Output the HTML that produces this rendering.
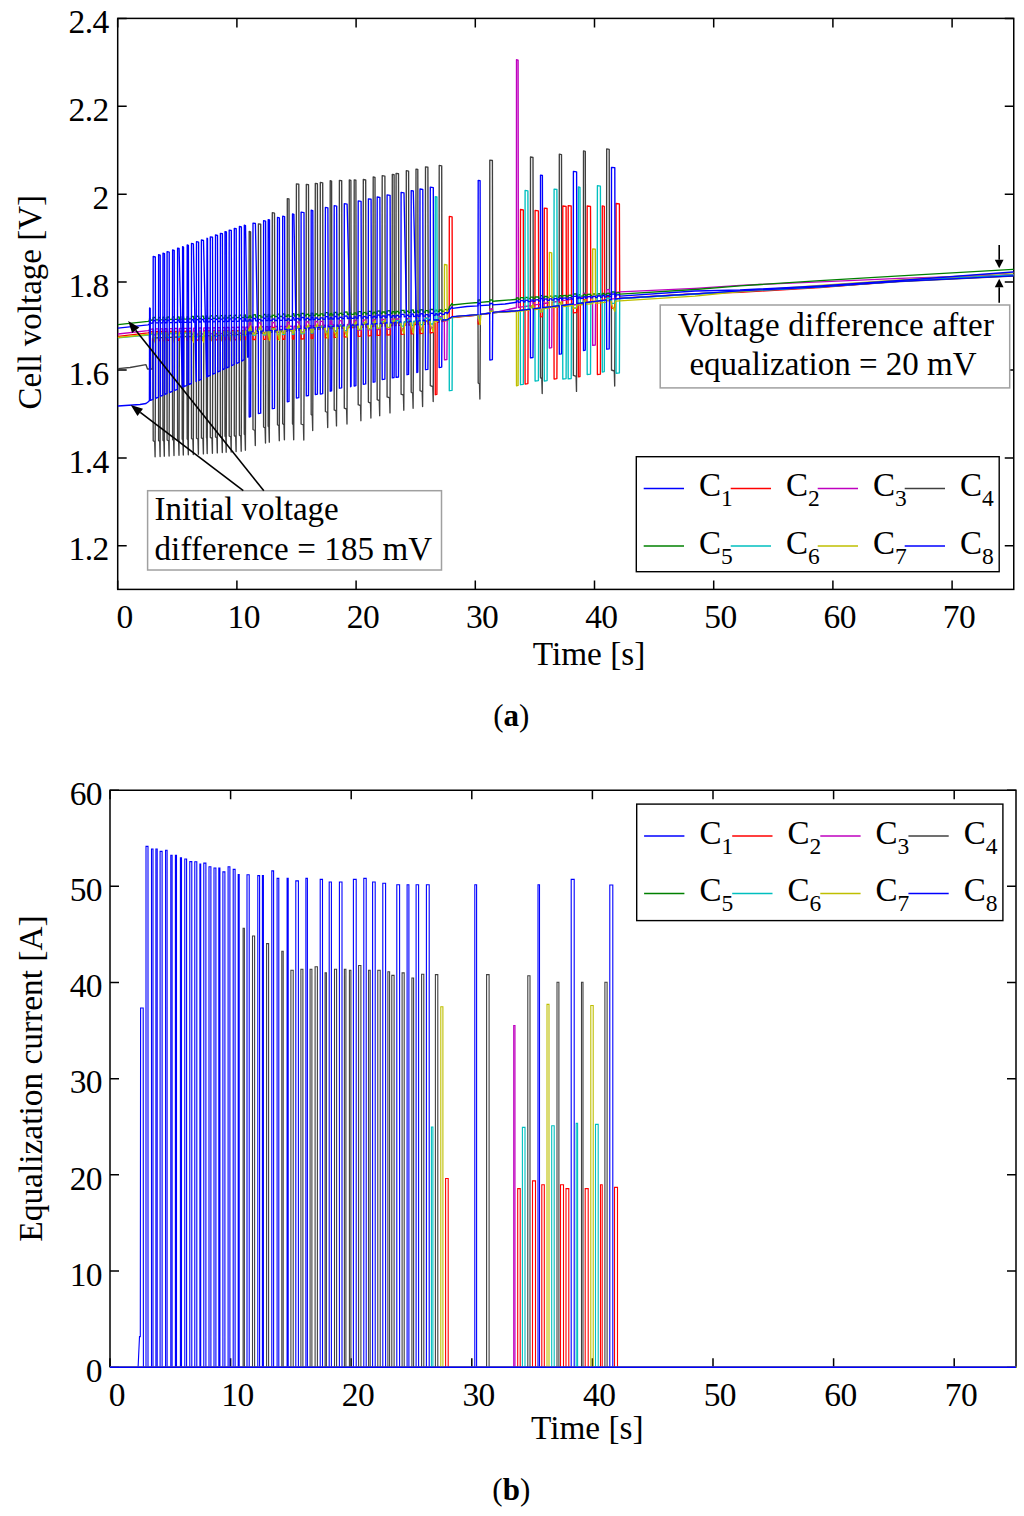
<!DOCTYPE html><html><head><meta charset="utf-8"><style>html,body{margin:0;padding:0;background:#fff;}svg{display:block}</style></head><body><svg width="1024" height="1516" viewBox="0 0 1024 1516" font-family='"Liberation Serif", serif'>
<rect width="1024" height="1516" fill="#fff"/>
<g stroke="#000" stroke-width="1.5" fill="none">
<rect x="117.7" y="18.4" width="896.05" height="571.00"/>
<path d="M117.70 589.4V580.4M117.70 18.4V27.4M236.90 589.4V580.4M236.90 18.4V27.4M356.10 589.4V580.4M356.10 18.4V27.4M475.30 589.4V580.4M475.30 18.4V27.4M594.50 589.4V580.4M594.50 18.4V27.4M713.70 589.4V580.4M713.70 18.4V27.4M832.90 589.4V580.4M832.90 18.4V27.4M952.10 589.4V580.4M952.10 18.4V27.4M117.7 545.80H126.7M1013.75 545.80H1004.75M117.7 457.90H126.7M1013.75 457.90H1004.75M117.7 370.00H126.7M1013.75 370.00H1004.75M117.7 282.10H126.7M1013.75 282.10H1004.75M117.7 194.20H126.7M1013.75 194.20H1004.75M117.7 106.30H126.7M1013.75 106.30H1004.75M117.7 18.40H126.7M1013.75 18.40H1004.75"/>
</g>
<text x="108.7" y="560.4" font-size="33.5" text-anchor="end" letter-spacing="-0.6">1.2</text>
<text x="108.7" y="472.5" font-size="33.5" text-anchor="end" letter-spacing="-0.6">1.4</text>
<text x="108.7" y="384.6" font-size="33.5" text-anchor="end" letter-spacing="-0.6">1.6</text>
<text x="108.7" y="296.7" font-size="33.5" text-anchor="end" letter-spacing="-0.6">1.8</text>
<text x="108.7" y="208.8" font-size="33.5" text-anchor="end" letter-spacing="-0.6">2</text>
<text x="108.7" y="120.9" font-size="33.5" text-anchor="end" letter-spacing="-0.6">2.2</text>
<text x="108.7" y="33.0" font-size="33.5" text-anchor="end" letter-spacing="-0.6">2.4</text>
<text x="124.5" y="628.3" font-size="33.5" text-anchor="middle" letter-spacing="-0.6">0</text>
<text x="243.7" y="628.3" font-size="33.5" text-anchor="middle" letter-spacing="-0.6">10</text>
<text x="362.9" y="628.3" font-size="33.5" text-anchor="middle" letter-spacing="-0.6">20</text>
<text x="482.1" y="628.3" font-size="33.5" text-anchor="middle" letter-spacing="-0.6">30</text>
<text x="601.3" y="628.3" font-size="33.5" text-anchor="middle" letter-spacing="-0.6">40</text>
<text x="720.5" y="628.3" font-size="33.5" text-anchor="middle" letter-spacing="-0.6">50</text>
<text x="839.7" y="628.3" font-size="33.5" text-anchor="middle" letter-spacing="-0.6">60</text>
<text x="958.9" y="628.3" font-size="33.5" text-anchor="middle" letter-spacing="-0.6">70</text>
<text x="589.0" y="665.2" font-size="33.3" text-anchor="middle" >Time [s]</text>
<text x="0" y="0" font-size="33" text-anchor="middle" transform="translate(41 302.2) rotate(-90)">Cell voltage [V]</text>
<text x="511.3" y="726" font-size="31" text-anchor="middle">(<tspan font-weight="bold">a</tspan>)</text>
<g stroke="#000" stroke-width="1.5" fill="none">
<path d="M110.0 1367.2V790.2H1016.0V1367.2"/>
<path d="M110.00 1367.2V1358.2M110.00 790.2V799.2M230.60 1367.2V1358.2M230.60 790.2V799.2M351.20 1367.2V1358.2M351.20 790.2V799.2M471.80 1367.2V1358.2M471.80 790.2V799.2M592.40 1367.2V1358.2M592.40 790.2V799.2M713.00 1367.2V1358.2M713.00 790.2V799.2M833.60 1367.2V1358.2M833.60 790.2V799.2M954.20 1367.2V1358.2M954.20 790.2V799.2M110.0 1367.20H119.0M1016.0 1367.20H1007.0M110.0 1271.03H119.0M1016.0 1271.03H1007.0M110.0 1174.87H119.0M1016.0 1174.87H1007.0M110.0 1078.70H119.0M1016.0 1078.70H1007.0M110.0 982.53H119.0M1016.0 982.53H1007.0M110.0 886.37H119.0M1016.0 886.37H1007.0M110.0 790.20H119.0M1016.0 790.20H1007.0"/>
</g>
<g id="dataA" fill="none" stroke-width="1.35" stroke-linejoin="round">
<path d="M117.9 368.6L118.0 368.6 130.0 367.5 146.0 364.7 147.5 369.0 149.4 369.0 150.5 369.0 152.3 369.0 152.5 338.0 153.0 338.0 153.2 440.8 154.7 441.8 155.1 456.8 155.6 337.9 158.5 337.7 158.6 440.5 159.7 441.5 160.1 456.5 160.5 337.7 162.8 337.6 163.0 440.2 163.9 441.2 164.3 456.2 164.8 337.5 167.0 337.4 167.1 440.0 168.7 441.0 169.1 456.0 169.5 337.3 172.4 337.2 172.6 439.6 173.6 440.6 174.0 455.6 174.5 337.1 177.4 336.9 177.6 439.3 178.6 440.3 179.0 455.3 179.4 336.9 182.1 336.8 182.2 439.1 182.9 440.1 183.3 455.1 183.8 336.7 187.0 336.5 187.2 438.8 187.9 439.8 188.3 454.8 188.7 336.5 191.4 336.4 191.5 438.5 192.9 439.5 193.3 454.5 193.7 336.3 196.3 336.2 196.5 438.2 198.0 439.2 198.4 454.2 198.9 336.0 200.0 336.0 201.3 335.9 201.4 437.9 203.0 438.9 203.4 453.9 203.8 335.8 206.3 335.7 206.5 437.5 206.8 438.5 207.2 453.5 207.7 335.7 210.2 335.6 210.3 437.3 212.0 438.3 212.4 453.3 212.8 335.5 215.3 335.4 215.5 436.9 216.9 437.9 217.3 452.9 217.8 335.3 220.2 335.2 220.4 436.6 221.9 437.6 222.3 452.6 222.7 335.1 224.9 335.0 225.0 436.2 225.8 437.2 226.2 452.2 226.7 334.9 229.0 334.8 229.2 436.0 230.8 437.0 231.2 452.0 231.6 334.7 234.2 334.6 234.3 435.6 235.7 436.6 236.1 451.6 236.5 334.5 239.2 334.4 239.4 435.2 240.8 436.2 241.2 451.2 241.7 334.3 244.2 334.2 244.3 434.2 245.0 435.2 245.4 450.2 245.8 334.1 248.0 334.0 249.0 333.9 249.2 231.4 250.6 231.8 250.9 333.8 252.9 333.6 253.0 429.5 254.9 430.5 255.3 445.5 255.7 333.4 258.3 333.2 258.4 223.8 260.7 224.2 261.0 333.0 263.4 332.8 263.6 427.0 265.1 428.0 265.5 443.0 265.9 332.6 268.1 332.5 268.2 426.2 268.9 427.2 269.3 442.2 269.8 332.3 272.1 332.1 272.3 212.7 274.5 213.1 274.8 331.9 277.4 331.7 277.5 424.7 278.9 425.7 279.3 440.7 279.7 331.6 282.5 331.3 282.7 423.8 284.0 424.8 284.4 439.8 284.9 331.2 287.2 331.0 287.3 198.6 289.0 199.0 289.3 330.8 292.4 330.6 292.5 423.8 293.3 424.8 293.7 439.8 294.2 330.4 296.3 330.3 296.4 183.8 298.8 184.2 299.1 330.1 301.0 329.9 301.1 424.0 303.4 425.0 303.8 440.0 304.3 329.7 306.1 329.5 306.3 184.3 308.5 184.7 308.8 329.3 311.1 329.1 311.2 414.6 312.3 415.6 312.7 430.6 313.1 329.0 315.1 328.8 315.3 183.3 317.4 183.7 317.7 328.6 320.2 328.4 320.3 182.4 322.7 182.8 323.0 328.2 325.2 328.1 325.4 411.5 327.3 412.5 327.7 427.5 328.2 327.8 330.1 327.7 330.2 180.7 331.6 181.1 331.9 327.5 334.1 327.4 334.2 409.9 336.1 410.9 336.5 425.9 337.0 327.2 339.2 327.0 339.4 180.3 341.7 180.7 342.0 326.8 344.2 326.6 344.3 408.1 346.6 409.1 347.0 424.1 347.4 326.4 349.1 326.2 349.3 180.0 350.9 180.4 351.2 326.1 354.1 325.8 354.2 179.8 355.9 180.2 356.2 325.7 358.0 325.5 358.2 404.7 360.5 405.7 360.9 420.7 361.4 325.3 363.2 325.1 363.3 179.5 365.7 179.9 366.0 324.9 368.2 324.8 368.4 402.1 370.5 403.1 370.9 418.1 371.4 324.5 373.0 324.4 373.2 177.0 375.0 177.4 375.3 324.2 377.0 324.1 377.2 399.7 379.3 400.7 379.7 415.7 380.2 323.8 382.0 323.7 382.2 175.7 384.9 176.1 385.2 323.4 387.0 323.3 387.1 396.9 389.6 397.9 390.0 412.9 390.4 323.0 392.1 322.9 392.3 174.3 394.1 174.7 394.4 322.7 396.0 322.6 396.1 173.3 398.5 173.7 398.8 322.4 400.9 322.2 401.1 394.2 403.4 395.2 403.8 410.2 404.3 322.0 406.2 321.8 406.3 170.7 408.6 171.1 408.9 321.6 411.0 321.5 411.2 392.3 412.7 393.3 413.1 408.3 413.6 321.3 415.8 321.1 416.0 169.1 417.8 169.5 418.1 320.9 419.9 320.8 420.0 390.6 422.2 391.6 422.6 406.6 423.1 320.5 425.3 320.4 425.5 166.8 427.9 167.2 428.2 320.1 430.0 320.0 430.2 320.0 430.3 385.6 432.8 386.6 433.2 401.6 433.6 320.0 435.1 320.0 437.2 320.0 439.1 320.0 439.2 165.4 441.7 165.8 442.0 320.0 444.3 320.0 447.2 319.9 449.2 318.7 452.4 317.0 478.0 315.0 478.2 383.0 479.5 384.0 479.9 399.0 480.4 314.6 489.7 313.3 489.8 160.1 492.4 160.5 492.7 312.8 495.0 312.5 515.0 311.0 516.4 310.8 518.4 310.6 520.3 310.4 523.6 310.0 525.0 309.8 528.2 309.4 530.3 309.2 530.5 157.0 533.0 157.4 533.3 308.8 534.9 308.6 538.7 308.2 540.4 308.0 540.5 377.6 541.8 378.6 542.2 393.6 542.7 307.7 544.1 307.6 547.4 307.2 549.3 307.0 552.0 306.6 553.9 306.4 557.2 306.0 559.2 305.8 559.3 154.2 561.5 154.6 561.8 305.5 562.6 305.4 566.4 304.9 568.1 304.7 571.5 304.3 573.3 304.1 573.4 375.4 576.1 376.4 576.5 391.4 576.9 303.7 578.2 303.5 580.3 303.3 583.4 302.9 583.5 150.9 585.3 151.3 585.6 302.7 587.0 302.5 590.8 302.0 592.6 301.8 595.6 301.5 597.2 301.3 600.7 300.9 602.2 300.7 604.6 300.4 606.5 300.2 606.7 148.9 609.2 149.3 609.5 299.8 611.4 299.6 611.5 370.0 614.3 371.0 614.7 386.0 615.1 299.2 616.0 299.1 619.7 298.6 620.0 298.6 695.0 294.0 740.0 291.5 820.0 287.2 900.0 281.6 1013.0 276.0 1013.6 276.0" stroke="#404040"/>
<path d="M117.9 336.3L118.0 336.3 148.0 332.8 149.4 332.4 149.6 341.4 150.2 341.1 150.5 332.1 152.0 331.6 153.0 331.6 153.2 340.6 155.3 340.6 155.6 331.6 158.5 331.5 158.6 340.5 160.2 340.5 160.5 331.5 162.8 331.5 163.0 340.5 164.5 340.5 164.8 331.5 167.0 331.4 167.1 340.4 169.2 340.4 169.5 331.4 172.4 331.4 172.6 340.4 174.2 340.4 174.5 331.4 177.4 331.3 177.6 340.3 179.1 340.3 179.4 331.3 182.1 331.3 182.2 340.3 183.5 340.3 183.8 331.3 187.0 331.2 187.2 340.2 188.4 340.2 188.7 331.2 191.4 331.2 191.5 340.2 193.4 340.2 193.7 331.1 196.3 331.1 196.5 340.1 198.6 340.1 198.9 331.1 201.3 331.1 201.4 340.1 203.5 340.0 203.8 331.0 206.3 331.0 206.5 340.0 207.4 340.0 207.7 331.0 210.2 331.0 210.3 340.0 212.5 339.9 212.8 330.9 215.3 330.9 215.5 339.9 217.5 339.9 217.8 330.9 220.2 330.9 220.4 339.9 222.4 339.8 222.7 330.8 224.9 330.8 225.0 339.8 226.4 339.8 226.7 330.8 229.0 330.8 229.2 339.8 231.3 339.7 231.6 330.7 234.2 330.7 234.3 339.7 236.2 339.7 236.5 330.7 239.2 330.7 239.4 339.7 241.4 339.6 241.7 330.6 244.2 330.6 244.3 339.6 245.5 339.6 245.8 330.6 249.0 330.6 249.2 327.6 250.6 327.5 250.9 330.5 252.9 330.5 253.0 339.5 255.4 339.5 255.7 330.5 258.3 330.5 258.4 327.5 260.7 327.4 261.0 330.4 263.4 330.4 263.6 339.4 265.6 339.4 265.9 330.4 268.1 330.3 268.2 339.3 269.5 339.3 269.8 330.3 272.1 330.3 272.3 327.3 274.5 327.3 274.8 330.3 277.4 330.2 277.5 339.2 279.4 339.2 279.7 330.2 282.5 330.2 282.7 339.2 284.6 339.2 284.9 330.2 287.2 330.1 287.3 327.1 289.0 327.1 289.3 330.1 292.4 330.1 292.5 339.1 293.9 339.1 294.2 330.1 296.3 330.0 296.4 327.0 298.8 327.0 299.1 330.0 300.0 330.0 301.0 330.0 301.1 339.0 304.0 338.8 304.3 329.8 306.1 329.7 306.3 326.7 308.5 326.6 308.8 329.6 311.1 329.5 311.2 338.5 312.8 338.4 313.1 329.4 315.1 329.3 315.3 326.3 317.4 326.2 317.7 329.2 320.2 329.1 320.3 326.1 322.7 325.9 323.0 328.9 325.2 328.8 325.4 337.8 327.9 337.7 328.2 328.7 330.1 328.6 330.2 325.6 331.6 325.5 331.9 328.5 334.1 328.4 334.2 337.4 336.7 337.3 337.0 328.3 339.2 328.2 339.4 325.2 341.7 325.1 342.0 328.1 344.2 328.0 344.3 337.0 347.1 336.8 347.4 327.8 349.1 327.7 349.3 324.7 350.9 324.6 351.2 327.6 354.1 327.5 354.2 324.5 355.9 324.4 356.2 327.4 358.0 327.3 358.2 336.3 361.1 336.2 361.4 327.2 363.2 327.1 363.3 324.1 365.7 324.0 366.0 327.0 368.2 326.9 368.4 335.9 371.1 335.7 371.4 326.7 373.0 326.6 373.2 323.6 375.0 323.5 375.3 326.5 377.0 326.4 377.2 335.4 379.9 335.3 380.2 326.3 382.0 326.2 382.2 323.2 384.9 323.1 385.2 326.1 387.0 326.0 387.1 335.0 390.1 334.8 390.4 325.8 392.1 325.7 392.3 322.7 394.1 322.7 394.4 325.6 396.0 325.6 396.1 322.6 398.5 322.4 398.8 325.4 400.9 325.3 401.1 334.3 404.0 334.2 404.3 325.2 406.2 325.1 406.3 322.1 408.6 322.0 408.9 325.0 411.0 324.9 411.2 333.9 413.3 333.8 413.6 324.8 415.8 324.7 416.0 321.7 417.8 321.6 418.1 324.5 419.9 324.5 420.0 333.5 422.8 333.3 423.1 324.3 425.3 324.2 425.5 321.2 427.9 321.1 428.2 324.1 430.0 324.0 430.2 324.0 430.3 333.0 433.3 332.3 433.6 323.3 435.1 322.9 435.3 394.7 436.9 394.3 437.2 322.5 439.1 322.1 439.2 319.1 441.7 318.6 442.0 321.5 444.3 321.1 447.2 320.4 449.2 319.2 449.3 216.4 452.1 216.8 452.4 317.5 478.0 315.0 478.2 324.0 480.1 323.7 480.4 314.7 489.7 313.4 489.8 310.4 492.4 309.9 492.7 312.9 495.0 312.6 515.0 311.0 516.4 310.8 518.4 310.6 520.3 310.4 520.5 209.5 523.3 209.9 523.6 310.0 525.0 309.8 525.1 384.0 527.9 383.6 528.2 309.4 530.3 309.1 530.5 306.1 533.0 305.8 533.3 308.8 534.9 308.6 535.1 210.4 538.4 210.8 538.7 308.1 540.4 307.9 540.5 316.9 542.4 316.6 542.7 307.6 544.1 307.4 544.3 208.1 547.1 208.5 547.4 307.1 549.3 306.8 552.0 306.5 553.9 306.3 554.1 379.0 556.9 378.6 557.2 305.9 559.2 305.6 559.3 302.6 561.5 302.3 561.8 305.3 562.6 305.2 562.8 206.0 566.1 206.4 566.4 304.7 568.1 304.5 568.2 205.6 571.2 206.0 571.5 304.1 573.3 303.9 573.4 312.9 576.6 312.5 576.9 303.4 578.2 303.3 578.4 376.9 580.0 376.5 580.3 303.0 583.4 302.7 583.5 299.7 585.3 299.4 585.6 302.4 587.0 302.2 587.2 206.0 590.5 206.4 590.8 301.8 592.6 301.5 595.6 301.2 597.2 301.0 597.4 374.6 600.4 374.2 600.7 300.6 602.2 300.4 602.3 205.9 604.3 206.3 604.6 300.1 606.5 299.8 606.7 296.8 609.2 296.5 609.5 299.5 611.4 299.3 611.5 308.3 614.8 307.8 615.1 298.8 616.0 298.7 616.1 203.5 619.4 203.9 619.7 298.2 620.0 298.2 695.0 293.6 740.0 292.3 820.0 287.5 900.0 281.0 1013.0 274.8 1013.6 274.8" stroke="#ff0000"/>
<path d="M117.9 334.0L118.0 334.0 148.0 330.7 149.4 330.1 149.6 336.1 150.2 335.7 150.5 329.7 152.0 329.0 153.0 329.0 153.2 335.0 155.3 334.9 155.6 328.9 158.5 328.9 158.6 334.9 160.2 334.8 160.5 328.8 162.8 328.8 163.0 334.8 164.5 334.7 164.8 328.7 167.0 328.7 167.1 334.7 169.2 334.6 169.5 328.6 172.4 328.6 172.6 334.6 174.2 334.5 174.5 328.5 177.4 328.5 177.6 334.5 179.1 334.4 179.4 328.4 182.1 328.4 182.2 334.4 183.5 334.4 183.8 328.4 187.0 328.3 187.2 334.3 188.4 334.3 188.7 328.3 191.4 328.2 191.5 334.2 193.4 334.2 193.7 328.2 196.3 328.1 196.5 334.1 198.6 334.1 198.9 328.0 201.3 328.0 201.4 334.0 203.5 334.0 203.8 327.9 206.3 327.9 206.5 333.9 207.4 333.9 207.7 327.9 210.2 327.8 210.3 333.8 212.5 333.8 212.8 327.8 215.3 327.7 215.5 333.7 217.5 333.7 217.8 327.7 220.2 327.6 220.4 333.6 222.4 333.6 222.7 327.6 224.9 327.5 225.0 333.5 226.4 333.5 226.7 327.5 229.0 327.4 229.2 333.4 231.3 333.4 231.6 327.4 234.2 327.3 234.3 333.3 236.2 333.3 236.5 327.3 239.2 327.2 239.4 333.2 241.4 333.2 241.7 327.2 244.2 327.1 244.3 333.1 245.5 333.1 245.8 327.1 249.0 327.0 249.2 323.0 250.6 323.0 250.9 327.0 252.9 327.0 253.0 333.0 255.4 332.9 255.7 326.9 258.3 326.8 258.4 322.8 260.7 322.8 261.0 326.8 263.4 326.7 263.6 332.7 265.6 332.7 265.9 326.7 268.1 326.6 268.2 332.6 269.5 332.6 269.8 326.6 272.1 326.6 272.3 322.6 274.5 322.5 274.8 326.5 277.4 326.5 277.5 332.5 279.4 332.4 279.7 326.4 282.5 326.4 282.7 332.4 284.6 332.3 284.9 326.3 287.2 326.3 287.3 322.3 289.0 322.2 289.3 326.2 292.4 326.2 292.5 332.2 293.9 332.1 294.2 326.1 296.3 326.1 296.4 322.1 298.8 322.0 299.1 326.0 300.0 326.0 301.0 326.0 301.1 332.0 304.0 331.9 304.3 325.9 306.1 325.8 306.3 321.8 308.5 321.7 308.8 325.7 311.1 325.7 311.2 331.7 312.8 331.6 313.1 325.6 315.1 325.5 315.3 321.5 317.4 321.5 317.7 325.5 320.2 325.4 320.3 321.4 322.7 321.3 323.0 325.3 325.2 325.2 325.4 331.2 327.9 331.1 328.2 325.1 330.1 325.1 330.2 321.1 331.6 321.0 331.9 325.0 334.1 325.0 334.2 331.0 336.7 330.9 337.0 324.9 339.2 324.8 339.4 320.8 341.7 320.7 342.0 324.7 344.2 324.6 344.3 330.6 347.1 330.5 347.4 324.5 349.1 324.5 349.3 320.5 350.9 320.4 351.2 324.4 354.1 324.3 354.2 320.3 355.9 320.3 356.2 324.3 358.0 324.2 358.2 330.2 361.1 330.1 361.4 324.1 363.2 324.1 363.3 320.1 365.7 320.0 366.0 324.0 368.2 323.9 368.4 329.9 371.1 329.8 371.4 323.8 373.0 323.8 373.2 319.8 375.0 319.7 375.3 323.7 377.0 323.6 377.2 329.6 379.9 329.5 380.2 323.5 382.0 323.5 382.2 319.5 384.9 319.4 385.2 323.4 387.0 323.3 387.1 329.3 390.1 329.2 390.4 323.2 392.1 323.2 392.3 319.2 394.1 319.1 394.4 323.1 396.0 323.0 396.1 319.0 398.5 319.0 398.8 323.0 400.9 322.9 401.1 328.9 404.0 328.8 404.3 322.8 406.2 322.7 406.3 318.7 408.6 318.7 408.9 322.6 411.0 322.6 411.2 328.6 413.3 328.5 413.6 322.5 415.8 322.4 416.0 318.4 417.8 318.4 418.1 322.4 419.9 322.3 420.0 328.3 422.8 328.2 423.1 322.2 425.3 322.1 425.5 318.1 427.9 318.1 428.2 322.1 430.0 322.0 430.2 322.0 430.3 328.0 433.3 327.6 433.6 321.6 435.1 321.4 437.2 321.2 439.1 320.9 439.2 316.9 441.7 316.6 442.0 320.6 444.3 320.3 444.5 359.9 446.9 359.5 447.2 319.9 449.2 318.7 452.4 317.0 478.0 314.7 478.2 320.7 480.1 320.4 480.4 314.4 489.7 313.1 489.8 309.1 492.4 308.7 492.7 312.7 495.0 312.4 515.0 308.0 516.4 307.8 516.5 59.7 518.1 60.1 518.4 307.5 520.3 307.2 523.6 306.7 525.0 306.5 528.2 306.0 530.3 305.6 530.5 301.6 533.0 301.2 533.3 305.2 534.9 304.9 538.7 304.3 540.4 304.1 540.5 310.1 542.4 309.8 542.7 303.7 544.1 303.5 547.4 303.0 549.3 302.7 549.4 348.0 551.7 347.6 552.0 302.3 553.9 302.0 557.2 301.5 559.2 301.2 559.3 297.2 561.5 296.8 561.8 300.8 562.6 300.7 566.4 300.1 568.1 299.8 571.5 299.3 573.3 299.0 573.4 305.0 576.6 304.5 576.9 298.4 578.2 298.2 580.3 297.9 583.4 297.5 583.5 293.5 585.3 293.1 585.6 297.1 587.0 296.9 590.8 296.3 592.6 296.0 592.7 345.4 595.3 345.0 595.6 295.6 597.2 295.3 600.7 294.8 602.2 294.6 604.6 294.2 606.5 293.9 606.7 289.9 609.2 289.4 609.5 293.4 611.4 293.1 611.5 299.1 614.8 298.6 615.1 292.6 616.0 292.4 619.7 291.8 620.0 291.8 695.0 288.3 740.0 285.3 820.0 281.9 900.0 278.3 1013.0 274.6 1013.6 274.6" stroke="#bf00bf"/>
<path d="M117.9 324.6L118.0 324.6 148.0 321.3 149.4 320.8 149.6 318.3 150.2 318.1 150.5 320.5 152.0 320.0 153.0 320.0 153.2 317.5 155.3 317.4 155.6 319.9 158.5 319.8 158.6 317.3 160.2 317.3 160.5 319.8 162.8 319.7 163.0 317.2 164.5 317.2 164.8 319.7 167.0 319.6 167.1 317.1 169.2 317.0 169.5 319.5 172.4 319.4 172.6 316.9 174.2 316.9 174.5 319.4 177.4 319.3 177.6 316.8 179.1 316.8 179.4 319.3 182.1 319.2 182.2 316.7 183.5 316.6 183.8 319.1 187.0 319.1 187.2 316.6 188.4 316.5 188.7 319.0 191.4 318.9 191.5 316.4 193.4 316.4 193.7 318.9 196.3 318.8 196.5 316.3 198.6 316.2 198.9 318.7 201.3 318.7 201.4 316.2 203.5 316.1 203.8 318.6 206.3 318.5 206.5 316.0 207.4 316.0 207.7 318.5 210.2 318.4 210.3 315.9 212.5 315.9 212.8 318.4 215.3 318.3 215.5 315.8 217.5 315.7 217.8 318.2 220.2 318.2 220.4 315.7 222.4 315.6 222.7 318.1 224.9 318.0 225.0 315.5 226.4 315.5 226.7 318.0 229.0 317.9 229.2 315.4 231.3 315.4 231.6 317.8 234.2 317.8 234.3 315.3 236.2 315.2 236.5 317.7 239.2 317.6 239.4 315.1 241.4 315.1 241.7 317.6 244.2 317.5 244.3 315.0 245.5 315.0 245.8 317.5 249.0 317.4 249.2 315.9 250.6 315.8 250.9 317.3 252.9 317.3 253.0 314.8 255.4 314.7 255.7 317.2 258.3 317.1 258.4 315.6 260.7 315.6 261.0 317.1 263.4 317.0 263.6 314.5 265.6 314.4 265.9 316.9 268.1 316.9 268.2 314.4 269.5 314.3 269.8 316.8 272.1 316.8 272.3 315.3 274.5 315.2 274.8 316.7 277.4 316.6 277.5 314.1 279.4 314.1 279.7 316.5 282.5 316.5 282.7 314.0 284.6 313.9 284.9 316.4 287.2 316.3 287.3 314.8 289.0 314.8 289.3 316.3 292.4 316.2 292.5 313.7 293.9 313.7 294.2 316.2 296.3 316.1 296.4 314.6 298.8 314.5 299.1 316.0 300.0 316.0 301.0 316.0 301.1 313.5 304.0 313.4 304.3 315.9 306.1 315.8 306.3 314.3 308.5 314.2 308.8 315.7 311.1 315.7 311.2 313.2 312.8 313.1 313.1 315.6 315.1 315.5 315.3 314.0 317.4 314.0 317.7 315.5 320.2 315.4 320.3 313.9 322.7 313.8 323.0 315.3 325.2 315.2 325.4 312.7 327.9 312.6 328.2 315.1 330.1 315.1 330.2 313.6 331.6 313.5 331.9 315.0 334.1 315.0 334.2 312.5 336.7 312.4 337.0 314.9 339.2 314.8 339.4 313.3 341.7 313.2 342.0 314.7 344.2 314.6 344.3 312.1 347.1 312.0 347.4 314.5 349.1 314.5 349.3 313.0 350.9 312.9 351.2 314.4 354.1 314.3 354.2 312.8 355.9 312.8 356.2 314.3 358.0 314.2 358.2 311.7 361.1 311.6 361.4 314.1 363.2 314.1 363.3 312.6 365.7 312.5 366.0 314.0 368.2 313.9 368.4 311.4 371.1 311.3 371.4 313.8 373.0 313.8 373.2 312.3 375.0 312.2 375.3 313.7 377.0 313.6 377.2 311.1 379.9 311.0 380.2 313.5 382.0 313.5 382.2 312.0 384.9 311.9 385.2 313.4 387.0 313.3 387.1 310.8 390.1 310.7 390.4 313.2 392.1 313.2 392.3 311.7 394.1 311.6 394.4 313.1 396.0 313.0 396.1 311.5 398.5 311.5 398.8 313.0 400.9 312.9 401.1 310.4 404.0 310.3 404.3 312.8 406.2 312.7 406.3 311.2 408.6 311.2 408.9 312.6 411.0 312.6 411.2 310.1 413.3 310.0 413.6 312.5 415.8 312.4 416.0 310.9 417.8 310.9 418.1 312.4 419.9 312.3 420.0 309.8 422.8 309.7 423.1 312.2 425.3 312.1 425.5 310.6 427.9 310.6 428.2 312.1 430.0 312.0 430.2 312.0 430.3 309.5 433.3 309.3 433.6 311.8 435.1 311.7 435.3 310.2 436.9 310.1 437.2 311.6 439.1 311.5 439.2 310.0 441.7 309.8 442.0 311.3 444.3 311.2 444.5 309.7 446.9 309.5 447.2 310.8 449.2 308.4 449.3 306.9 452.1 303.5 452.4 305.0 467.0 303.4 478.0 302.5 478.2 300.0 480.1 299.8 480.4 302.3 489.7 301.5 489.8 300.0 492.4 299.8 492.7 301.3 496.0 301.0 515.0 299.5 516.4 299.4 516.5 297.9 518.1 297.8 518.4 299.3 520.3 299.2 520.5 297.7 523.3 297.6 523.6 299.1 525.0 299.0 525.1 297.5 527.9 297.3 528.2 298.8 530.3 298.7 530.5 297.2 533.0 297.1 533.3 298.6 534.9 298.5 535.1 297.0 538.4 296.8 538.7 298.3 540.4 298.2 540.5 295.7 542.4 295.6 542.7 298.1 544.1 298.0 544.3 296.5 547.1 296.3 547.4 297.8 549.3 297.7 549.4 296.2 551.7 296.1 552.0 297.6 553.9 297.5 554.1 296.0 556.9 295.8 557.2 297.3 559.2 297.2 559.3 295.7 561.5 295.6 561.8 297.1 562.6 297.1 562.8 295.6 566.1 295.4 566.4 296.9 568.1 296.8 568.2 295.3 571.2 295.1 571.5 296.6 573.3 296.5 573.4 294.0 576.6 293.8 576.9 296.3 578.2 296.2 578.4 294.7 580.0 294.6 580.3 296.1 583.4 296.0 583.5 294.5 585.3 294.4 585.6 295.9 587.0 295.8 587.2 294.3 590.5 294.1 590.8 295.6 592.6 295.5 592.7 294.0 595.3 293.9 595.6 295.4 597.2 295.3 597.4 293.8 600.4 293.6 600.7 295.1 602.2 295.0 602.3 293.5 604.3 293.4 604.6 294.9 606.5 294.8 606.7 293.3 609.2 293.1 609.5 294.6 611.4 294.5 611.5 292.0 614.8 291.9 615.1 294.4 616.0 294.3 616.1 292.8 619.4 292.6 619.7 294.1 620.0 294.1 695.0 289.5 740.0 285.8 820.0 280.6 900.0 275.9 1013.0 269.3 1013.6 269.3" stroke="#008000"/>
<path d="M117.9 337.8L118.0 337.8 148.0 335.0 149.4 334.6 149.6 338.6 150.2 338.4 150.5 334.4 152.0 334.0 153.0 334.0 153.2 338.0 155.3 337.9 155.6 333.9 158.5 333.8 158.6 337.8 160.2 337.8 160.5 333.8 162.8 333.7 163.0 337.7 164.5 337.7 164.8 333.7 167.0 333.6 167.1 337.6 169.2 337.5 169.5 333.5 172.4 333.4 172.6 337.4 174.2 337.4 174.5 333.4 177.4 333.3 177.6 337.3 179.1 337.3 179.4 333.3 182.1 333.2 182.2 337.2 183.5 337.1 183.8 333.1 187.0 333.1 187.2 337.1 188.4 337.0 188.7 333.0 191.4 332.9 191.5 336.9 193.4 336.9 193.7 332.9 196.3 332.8 196.5 336.8 198.6 336.7 198.9 332.7 201.3 332.7 201.4 336.7 203.5 336.6 203.8 332.6 206.3 332.5 206.5 336.5 207.4 336.5 207.7 332.5 210.2 332.4 210.3 336.4 212.5 336.4 212.8 332.4 215.3 332.3 215.5 336.3 217.5 336.2 217.8 332.2 220.2 332.2 220.4 336.2 222.4 336.1 222.7 332.1 224.9 332.0 225.0 336.0 226.4 336.0 226.7 332.0 229.0 331.9 229.2 335.9 231.3 335.9 231.6 331.8 234.2 331.8 234.3 335.8 236.2 335.7 236.5 331.7 239.2 331.6 239.4 335.6 241.4 335.6 241.7 331.6 244.2 331.5 244.3 335.5 245.5 335.5 245.8 331.5 249.0 331.4 249.2 329.4 250.6 329.3 250.9 331.3 252.9 331.3 253.0 335.3 255.4 335.2 255.7 331.2 258.3 331.1 258.4 329.1 260.7 329.1 261.0 331.1 263.4 331.0 263.6 335.0 265.6 334.9 265.9 330.9 268.1 330.9 268.2 334.9 269.5 334.8 269.8 330.8 272.1 330.8 272.3 328.8 274.5 328.7 274.8 330.7 277.4 330.6 277.5 334.6 279.4 334.6 279.7 330.5 282.5 330.5 282.7 334.5 284.6 334.4 284.9 330.4 287.2 330.3 287.3 328.3 289.0 328.3 289.3 330.3 292.4 330.2 292.5 334.2 293.9 334.2 294.2 330.2 296.3 330.1 296.4 328.1 298.8 328.0 299.1 330.0 300.0 330.0 301.0 329.9 301.1 333.9 304.0 333.7 304.3 329.7 306.1 329.5 306.3 327.5 308.5 327.3 308.8 329.3 311.1 329.1 311.2 333.1 312.8 333.0 313.1 329.0 315.1 328.8 315.3 326.8 317.4 326.7 317.7 328.6 320.2 328.4 320.3 326.4 322.7 326.2 323.0 328.2 325.2 328.1 325.4 332.1 327.9 331.8 328.2 327.8 330.1 327.7 330.2 325.7 331.6 325.6 331.9 327.5 334.1 327.4 334.2 331.4 336.7 331.2 337.0 327.2 339.2 327.0 339.4 325.0 341.7 324.8 342.0 326.8 344.2 326.6 344.3 330.6 347.1 330.4 347.4 326.4 349.1 326.2 349.3 324.2 350.9 324.1 351.2 326.1 354.1 325.8 354.2 323.8 355.9 323.7 356.2 325.7 358.0 325.5 358.2 329.5 361.1 329.3 361.4 325.3 363.2 325.1 363.3 323.1 365.7 322.9 366.0 324.9 368.2 324.8 368.4 328.8 371.1 328.5 371.4 324.5 373.0 324.4 373.2 322.4 375.0 322.2 375.3 324.2 377.0 324.1 377.2 328.1 379.9 327.8 380.2 323.8 382.0 323.7 382.2 321.7 384.9 321.5 385.2 323.4 387.0 323.3 387.1 327.3 390.1 327.1 390.4 323.0 392.1 322.9 392.3 320.9 394.1 320.8 394.4 322.7 396.0 322.6 396.1 320.6 398.5 320.4 398.8 322.4 400.9 322.2 401.1 326.2 404.0 326.0 404.3 322.0 406.2 321.8 406.3 319.8 408.6 319.6 408.9 321.6 411.0 321.5 411.2 325.5 413.3 325.3 413.6 321.3 415.8 321.1 416.0 319.1 417.8 318.9 418.1 320.9 419.9 320.8 420.0 324.8 422.8 324.5 423.1 320.5 425.3 320.4 425.5 318.4 427.9 318.2 428.2 320.1 430.0 320.0 430.2 320.0 430.3 324.0 433.3 324.0 433.6 320.0 435.1 320.0 435.3 196.6 436.9 197.0 437.2 320.0 439.1 320.0 439.2 318.0 441.7 318.0 442.0 320.0 444.3 320.0 447.2 319.9 449.2 318.7 449.3 390.7 452.1 390.3 452.4 317.0 478.0 314.7 478.2 318.7 480.1 318.4 480.4 314.4 489.7 313.2 489.8 311.2 492.4 310.8 492.7 312.8 495.0 312.5 515.0 311.0 516.4 310.8 518.4 310.6 520.3 310.4 520.5 384.7 523.3 384.3 523.6 310.0 525.0 309.8 525.1 190.4 527.9 190.8 528.2 309.4 530.3 309.2 530.5 307.2 533.0 306.8 533.3 308.8 534.9 308.6 535.1 381.0 538.4 380.6 538.7 308.2 540.4 308.0 540.5 312.0 542.4 311.7 542.7 307.7 544.1 307.5 544.3 381.0 547.1 380.6 547.4 307.1 549.3 306.9 552.0 306.6 553.9 306.4 554.1 189.1 556.9 189.5 557.2 306.0 559.2 305.7 559.3 303.7 561.5 303.4 561.8 305.4 562.6 305.3 562.8 379.0 566.1 378.6 566.4 304.9 568.1 304.7 568.2 378.9 571.2 378.5 571.5 304.3 573.3 304.1 573.4 308.1 576.6 307.6 576.9 303.6 578.2 303.5 578.4 187.0 580.0 187.4 580.3 303.2 583.4 302.9 583.5 300.9 585.3 300.6 585.6 302.6 587.0 302.4 587.2 374.5 590.5 374.1 590.8 302.0 592.6 301.8 595.6 301.4 597.2 301.2 597.4 185.7 600.4 186.1 600.7 300.8 602.2 300.6 602.3 372.0 604.3 371.6 604.6 300.3 606.5 300.1 606.7 298.1 609.2 297.8 609.5 299.8 611.4 299.5 611.5 303.5 614.8 303.1 615.1 299.1 616.0 299.0 616.1 373.3 619.4 372.9 619.7 298.5 620.0 298.5 695.0 294.0 740.0 291.5 820.0 287.0 900.0 281.0 1013.0 275.0 1013.6 275.0" stroke="#00bfbf"/>
<path d="M117.9 337.5L118.0 337.5 148.0 334.5 149.4 334.0 149.6 337.0 150.2 336.6 150.5 333.6 152.0 333.0 153.0 333.0 153.2 335.5 155.3 342.9 156.0 332.9 158.5 332.9 158.6 335.9 160.2 335.8 160.5 332.8 162.8 332.8 163.0 335.3 164.5 342.7 165.2 332.7 167.0 332.7 167.1 335.7 169.2 335.6 169.5 332.6 172.4 332.6 172.6 335.1 174.2 342.5 174.9 332.5 177.4 332.5 177.6 335.5 179.1 335.4 179.4 332.4 182.1 332.4 182.2 334.9 183.5 342.4 184.2 332.3 187.0 332.3 187.2 335.3 188.4 335.3 188.7 332.3 191.4 332.2 191.5 334.7 193.4 342.2 194.2 332.1 196.3 332.1 196.5 335.1 198.6 335.1 198.9 332.0 201.3 332.0 201.4 334.5 203.5 342.0 204.3 331.9 206.3 331.9 206.5 334.9 207.4 334.9 207.7 331.9 210.2 331.8 210.3 334.3 212.5 341.8 213.3 331.8 215.3 331.7 215.5 334.7 217.5 334.7 217.8 331.7 220.2 331.6 220.4 334.1 222.4 341.6 223.2 331.6 224.9 331.5 225.0 334.5 226.4 334.5 226.7 331.5 229.0 331.4 229.2 333.9 231.3 341.4 232.1 331.4 234.2 331.3 234.3 334.3 236.2 334.3 236.5 331.3 239.2 331.2 239.4 333.7 241.4 341.2 242.1 331.2 244.2 331.1 244.3 334.1 245.5 334.1 245.8 331.1 249.0 331.0 249.2 329.8 250.6 326.0 251.3 331.0 252.9 331.0 253.0 334.0 255.4 333.9 255.7 330.9 258.3 330.8 258.4 329.6 260.7 325.8 261.4 330.8 263.4 330.7 263.6 333.7 265.6 333.7 265.9 330.7 268.1 330.6 268.2 333.1 269.5 340.6 270.2 330.6 272.1 330.6 272.3 329.1 274.5 329.0 274.8 330.5 277.4 330.5 277.5 333.0 279.4 340.4 280.2 330.4 282.5 330.4 282.7 333.4 284.6 333.3 284.9 330.3 287.2 330.3 287.3 329.0 289.0 325.2 289.8 330.2 292.4 330.2 292.5 333.2 293.9 333.1 294.2 330.1 296.3 330.1 296.4 328.8 298.8 325.0 299.6 330.0 300.0 330.0 301.0 329.9 301.1 332.9 304.0 332.7 304.3 329.7 306.1 329.6 306.3 328.4 308.5 324.5 309.2 329.4 311.1 329.3 311.2 332.3 312.8 332.2 313.1 329.2 315.1 329.1 315.3 327.8 317.4 323.9 318.1 328.9 320.2 328.8 320.3 327.3 322.7 327.1 323.0 328.6 325.2 328.4 325.4 330.9 327.9 338.3 328.6 328.2 330.1 328.2 330.2 326.7 331.6 326.5 331.9 328.0 334.1 327.9 334.2 330.4 336.7 337.7 337.4 327.7 339.2 327.6 339.4 326.1 341.7 325.9 342.0 327.4 344.2 327.3 344.3 329.8 347.1 337.1 347.9 327.1 349.1 327.0 349.3 325.5 350.9 325.4 351.2 326.8 354.1 326.7 354.2 325.4 355.9 321.5 356.7 326.5 358.0 326.4 358.2 329.4 361.1 329.2 361.4 326.2 363.2 326.1 363.3 324.9 365.7 320.9 366.5 325.9 368.2 325.8 368.4 328.8 371.1 328.6 371.4 325.6 373.0 325.5 373.2 324.3 375.0 320.4 375.8 325.3 377.0 325.3 377.2 328.3 379.9 328.1 380.2 325.1 382.0 325.0 382.2 323.7 384.9 319.8 385.7 324.7 387.0 324.6 387.1 327.6 390.1 327.4 390.4 324.4 392.1 324.3 392.3 323.1 394.1 319.2 394.8 324.2 396.0 324.1 396.1 322.6 398.5 322.4 398.8 323.9 400.9 323.8 401.1 326.3 404.0 333.6 404.7 323.6 406.2 323.5 406.3 322.0 408.6 321.8 408.9 323.3 411.0 323.2 411.2 325.7 413.3 333.0 414.0 323.0 415.8 322.9 416.0 321.4 417.8 321.2 418.1 322.7 419.9 322.6 420.0 325.1 422.8 332.4 423.5 322.4 425.3 322.3 425.5 320.8 427.9 320.6 428.2 322.1 430.0 322.0 430.2 322.0 430.3 324.5 433.3 331.7 434.1 321.6 435.1 321.5 437.2 321.4 439.1 321.2 439.2 319.7 441.7 319.5 442.0 320.9 444.3 320.7 444.5 264.5 446.9 264.9 447.2 320.4 449.2 319.0 452.4 317.0 478.0 314.8 478.2 317.3 480.1 324.5 480.8 314.4 489.7 313.2 489.8 311.7 492.4 311.2 492.7 312.7 495.0 312.4 515.0 311.5 516.4 311.4 516.5 385.8 518.1 385.4 518.4 311.1 520.3 311.0 523.6 310.6 525.0 310.5 528.2 310.2 530.3 309.9 530.5 308.7 533.0 304.7 533.7 309.6 534.9 309.5 538.7 309.1 540.4 308.9 540.5 311.9 542.4 311.7 542.7 308.7 544.1 308.5 547.4 308.2 549.3 308.0 549.4 252.4 551.7 252.8 552.0 307.7 553.9 307.5 557.2 307.2 559.2 307.0 559.3 305.7 561.5 301.7 562.3 306.7 562.6 306.6 566.4 306.3 568.1 306.1 571.5 305.7 573.3 305.6 573.4 308.6 576.6 308.2 576.9 305.2 578.2 305.1 580.3 304.8 583.4 304.5 583.5 303.3 585.3 299.3 586.1 304.3 587.0 304.2 590.8 303.8 592.6 303.6 592.7 248.8 595.3 249.2 595.6 303.3 597.2 303.1 600.7 302.8 602.2 302.6 604.6 302.4 606.5 302.2 606.7 300.7 609.2 300.4 609.5 301.9 611.4 301.7 611.5 304.2 614.8 311.3 615.6 301.3 616.0 301.2 619.7 300.8 620.0 300.8 695.0 296.1 740.0 291.5 820.0 285.3 900.0 280.0 1013.0 272.9 1013.6 272.9" stroke="#bfbf00"/>
<path d="M117.9 328.1L118.0 328.1 148.0 324.8 149.4 324.2 149.6 321.7 150.2 321.3 150.5 323.7 152.0 323.0 153.0 323.0 153.2 320.5 155.3 320.4 155.6 322.9 158.5 322.9 158.6 320.4 160.2 320.3 160.5 322.8 162.8 322.8 163.0 320.3 164.5 320.2 164.8 322.7 167.0 322.7 167.1 320.2 169.2 320.1 169.5 322.6 172.4 322.6 172.6 320.1 174.2 320.0 174.5 322.5 177.4 322.5 177.6 320.0 179.1 319.9 179.4 322.4 182.1 322.4 182.2 319.9 183.5 319.9 183.8 322.4 187.0 322.3 187.2 319.8 188.4 319.8 188.7 322.3 191.4 322.2 191.5 319.7 193.4 319.7 193.7 322.2 196.3 322.1 196.5 319.6 198.6 319.6 198.9 322.0 201.3 322.0 201.4 319.5 203.5 319.5 203.8 321.9 206.3 321.9 206.5 319.4 207.4 319.4 207.7 321.9 210.2 321.8 210.3 319.3 212.5 319.3 212.8 321.8 215.3 321.7 215.5 319.2 217.5 319.2 217.8 321.7 220.2 321.6 220.4 319.1 222.4 319.1 222.7 321.6 224.9 321.5 225.0 319.0 226.4 319.0 226.7 321.5 229.0 321.4 229.2 318.9 231.3 318.9 231.6 321.4 234.2 321.3 234.3 318.8 236.2 318.8 236.5 321.3 239.2 321.2 239.4 318.7 241.4 318.7 241.7 321.2 244.2 321.1 244.3 318.6 245.5 318.6 245.8 321.1 249.0 321.0 249.2 319.5 250.6 319.5 250.9 321.0 252.9 321.0 253.0 318.5 255.4 318.4 255.7 320.9 258.3 320.8 258.4 319.3 260.7 319.3 261.0 320.8 263.4 320.7 263.6 318.2 265.6 318.2 265.9 320.7 268.1 320.6 268.2 318.1 269.5 318.1 269.8 320.6 272.1 320.6 272.3 319.1 274.5 319.0 274.8 320.5 277.4 320.5 277.5 318.0 279.4 317.9 279.7 320.4 282.5 320.4 282.7 317.9 284.6 317.8 284.9 320.3 287.2 320.3 287.3 318.8 289.0 318.7 289.3 320.2 292.4 320.2 292.5 317.7 293.9 317.6 294.2 320.1 296.3 320.1 296.4 318.6 298.8 318.5 299.1 320.0 300.0 320.0 301.0 320.0 301.1 317.5 304.0 317.4 304.3 319.9 306.1 319.8 306.3 318.3 308.5 318.2 308.8 319.7 311.1 319.7 311.2 317.2 312.8 317.1 313.1 319.6 315.1 319.5 315.3 318.0 317.4 318.0 317.7 319.5 320.2 319.4 320.3 317.9 322.7 317.8 323.0 319.3 325.2 319.2 325.4 316.7 327.9 316.6 328.2 319.1 330.1 319.1 330.2 317.6 331.6 317.5 331.9 319.0 334.1 319.0 334.2 316.5 336.7 316.4 337.0 318.9 339.2 318.8 339.4 317.3 341.7 317.2 342.0 318.7 344.2 318.6 344.3 316.1 347.1 316.0 347.4 318.5 349.1 318.5 349.3 317.0 350.9 316.9 351.2 318.4 354.1 318.3 354.2 316.8 355.9 316.8 356.2 318.3 358.0 318.2 358.2 315.7 361.1 315.6 361.4 318.1 363.2 318.1 363.3 316.6 365.7 316.5 366.0 318.0 368.2 317.9 368.4 315.4 371.1 315.3 371.4 317.8 373.0 317.8 373.2 316.3 375.0 316.2 375.3 317.7 377.0 317.6 377.2 315.1 379.9 315.0 380.2 317.5 382.0 317.5 382.2 316.0 384.9 315.9 385.2 317.4 387.0 317.3 387.1 314.8 390.1 314.7 390.4 317.2 392.1 317.2 392.3 315.7 394.1 315.6 394.4 317.1 396.0 317.0 396.1 315.5 398.5 315.5 398.8 317.0 400.9 316.9 401.1 314.4 404.0 314.3 404.3 316.8 406.2 316.7 406.3 315.2 408.6 315.2 408.9 316.6 411.0 316.6 411.2 314.1 413.3 314.0 413.6 316.5 415.8 316.4 416.0 314.9 417.8 314.9 418.1 316.4 419.9 316.3 420.0 313.8 422.8 313.7 423.1 316.2 425.3 316.1 425.5 314.6 427.9 314.6 428.2 316.1 430.0 316.0 430.2 316.0 430.3 313.5 433.3 313.1 433.6 315.6 435.1 315.4 435.3 313.9 436.9 313.7 437.2 315.2 439.1 314.9 439.2 313.4 441.7 313.1 442.0 314.6 444.3 314.3 444.5 312.8 446.9 312.5 447.2 313.8 449.2 311.5 449.3 310.0 452.1 306.8 452.4 308.3 467.0 306.5 478.0 305.8 478.2 303.3 480.1 303.1 480.4 305.6 489.7 305.0 489.8 303.5 492.4 303.3 492.7 304.8 505.0 304.0 515.0 302.5 516.4 302.4 516.5 300.9 518.1 300.8 518.4 302.3 520.3 302.2 520.5 300.7 523.3 300.5 523.6 302.0 525.0 301.9 525.1 300.4 527.9 300.2 528.2 301.7 530.3 301.6 530.5 300.1 533.0 299.9 533.3 301.4 534.9 301.3 535.1 299.8 538.4 299.6 538.7 301.1 540.4 301.0 540.5 298.5 542.4 298.3 542.7 300.8 544.1 300.7 544.3 299.2 547.1 299.0 547.4 300.5 549.3 300.4 549.4 298.9 551.7 298.8 552.0 300.2 553.9 300.1 554.1 298.6 556.9 298.4 557.2 299.9 559.2 299.8 559.3 298.3 561.5 298.2 561.8 299.6 562.6 299.6 562.8 298.1 566.1 297.9 566.4 299.4 568.1 299.3 568.2 297.8 571.2 297.6 571.5 299.1 573.3 298.9 573.4 296.4 576.6 296.2 576.9 298.7 578.2 298.6 578.4 297.1 580.0 297.0 580.3 298.5 583.4 298.3 583.5 296.8 585.3 296.7 585.6 298.2 587.0 298.1 587.2 296.6 590.5 296.4 590.8 297.9 592.6 297.8 592.7 296.3 595.3 296.1 595.6 297.6 597.2 297.5 597.4 296.0 600.4 295.8 600.7 297.3 602.2 297.2 602.3 295.7 604.3 295.5 604.6 297.0 606.5 296.9 606.7 295.4 609.2 295.3 609.5 296.7 611.4 296.6 611.5 294.1 614.8 293.9 615.1 296.4 616.0 296.3 616.1 294.8 619.4 294.6 619.7 296.1 620.0 296.1 695.0 291.0 740.0 290.0 820.0 286.0 900.0 280.5 1013.0 272.0 1013.6 272.0" stroke="#0000ff"/>
<path d="M117.9 406.0L118.0 406.0 140.0 404.5 146.0 403.5 148.0 402.0 149.0 401.0 149.4 400.8 149.6 308.0 150.2 308.4 150.5 400.4 153.0 399.3 153.2 256.5 155.3 256.9 155.6 398.3 158.5 397.1 158.6 254.7 160.2 255.1 160.5 396.2 162.8 395.3 163.0 253.2 164.5 253.6 164.8 394.5 167.0 393.6 167.1 251.7 169.2 252.1 169.5 392.5 172.4 391.4 172.6 249.9 174.2 250.3 174.5 390.5 177.4 389.3 177.6 248.1 179.1 248.5 182.3 387.3 182.5 387.2 182.6 246.6 183.5 247.0 183.8 386.7 187.0 385.3 187.2 244.9 188.4 245.3 188.7 384.6 191.4 383.5 191.5 243.4 193.4 243.8 196.1 381.6 196.3 381.5 196.5 241.7 198.6 242.1 198.9 380.5 200.0 380.0 201.3 379.4 201.4 240.0 203.5 240.4 206.7 377.0 206.9 376.9 207.0 238.2 207.5 238.6 207.8 376.5 210.2 375.4 210.3 236.8 212.5 237.2 212.8 374.2 215.3 373.1 215.5 235.0 217.5 235.4 217.8 372.0 220.2 370.8 220.4 233.3 222.4 233.7 222.7 369.7 224.9 368.7 225.0 231.6 226.4 232.0 226.7 367.9 229.0 366.9 229.2 230.1 231.3 230.5 231.6 365.7 234.2 364.5 234.3 228.3 236.2 228.7 236.5 363.5 239.2 362.3 239.4 226.5 241.4 226.9 241.7 361.1 242.0 361.0 244.2 359.6 244.3 225.2 245.5 225.6 247.7 357.2 248.0 357.0 248.6 332.0 249.0 332.0 249.2 417.0 250.6 416.6 250.9 331.8 252.9 331.7 253.0 223.1 255.4 223.5 257.6 331.4 258.3 331.4 258.4 413.6 260.7 413.2 261.0 331.2 263.4 331.0 263.6 220.7 265.6 221.1 265.9 330.9 268.1 330.7 268.2 219.6 269.5 220.0 269.8 330.6 272.1 330.4 272.3 408.7 274.5 408.3 274.8 330.3 277.4 330.1 277.5 217.4 279.4 217.8 279.7 329.9 282.5 329.8 282.7 216.2 284.6 216.6 284.9 329.6 287.2 329.4 287.3 401.8 289.0 401.4 289.3 329.3 292.4 329.1 292.5 213.9 293.9 214.3 296.0 328.9 296.3 328.8 296.4 398.1 298.8 397.7 299.1 328.7 301.0 328.5 301.1 212.2 304.0 212.6 304.3 328.3 306.1 328.2 306.3 395.9 308.5 395.5 308.8 328.0 311.1 327.9 311.2 210.2 312.8 210.6 313.1 327.7 315.1 327.6 315.3 394.6 317.4 394.2 317.7 327.4 320.2 327.3 320.3 394.0 322.7 393.6 323.0 327.1 325.2 326.9 325.4 207.4 327.9 207.8 328.2 326.7 330.1 326.6 330.2 391.2 331.6 390.8 331.9 326.5 334.1 326.3 334.2 205.7 336.7 206.1 337.0 326.2 339.2 326.0 339.4 388.2 341.7 387.8 342.0 325.8 344.2 325.7 344.3 203.7 347.1 204.1 350.3 325.3 350.5 325.3 350.6 386.7 351.1 386.3 351.4 325.2 354.1 325.0 354.2 386.0 355.9 385.6 356.2 324.9 358.0 324.8 358.2 200.9 361.1 201.3 361.4 324.5 363.2 324.4 363.3 384.3 365.7 383.9 366.0 324.2 368.2 324.1 368.4 198.8 371.1 199.2 371.4 323.9 373.0 323.8 373.2 382.2 375.0 381.8 375.3 323.6 377.0 323.5 377.2 197.0 379.9 197.4 380.2 323.3 382.0 323.2 382.2 379.5 384.9 379.1 385.2 323.0 387.0 322.8 387.1 194.9 390.1 195.3 390.4 322.6 392.1 322.5 392.3 377.9 394.1 377.5 394.4 322.4 396.0 322.3 396.1 377.4 398.5 377.0 398.8 322.1 400.9 321.9 401.1 192.4 404.0 192.8 406.6 321.5 406.8 321.5 407.0 374.7 408.6 374.3 408.9 321.4 411.0 321.3 411.2 190.6 413.3 191.0 416.4 320.9 416.6 320.9 416.8 372.5 417.8 372.1 418.1 320.8 419.9 320.7 420.0 189.0 422.8 189.4 423.1 320.5 425.3 320.3 425.5 369.7 427.9 369.3 428.2 320.1 430.0 320.0 430.2 320.0 430.3 187.2 433.3 187.6 433.6 320.0 435.1 320.0 437.2 320.0 439.1 320.0 439.2 367.5 441.7 367.1 442.0 320.0 444.3 320.0 447.2 319.9 449.2 318.5 452.4 316.6 478.0 314.7 478.2 180.3 480.1 180.7 480.4 314.3 489.7 313.0 489.8 360.0 492.4 359.6 492.7 312.5 495.0 312.2 515.0 311.0 516.4 310.8 518.4 310.6 520.3 310.4 523.6 310.0 525.0 309.8 528.2 309.4 530.3 309.2 530.5 357.9 533.0 357.5 533.3 308.8 534.9 308.6 538.7 308.2 540.4 308.0 540.5 175.1 542.4 175.5 542.7 307.7 544.1 307.5 547.4 307.1 549.3 306.9 552.0 306.6 553.9 306.3 557.2 305.9 559.2 305.7 559.3 354.2 561.5 353.8 561.8 305.4 562.6 305.3 566.4 304.8 568.1 304.6 571.5 304.2 573.3 304.0 573.4 171.4 576.6 171.8 576.9 303.6 578.2 303.4 580.3 303.2 583.4 302.8 583.5 350.5 585.3 350.1 585.6 302.5 587.0 302.4 590.8 301.9 592.6 301.7 595.6 301.3 597.2 301.1 600.7 300.7 602.2 300.5 604.6 300.2 606.5 300.0 606.7 349.2 609.2 348.8 609.5 299.7 611.4 299.4 611.5 167.3 614.8 167.7 615.1 299.0 616.0 298.9 619.7 298.4 620.0 298.4 695.0 293.8 740.0 290.8 820.0 286.9 900.0 281.4 1013.0 275.8 1013.6 275.8" stroke="#0000ff"/>
</g>
<g id="dataB" fill="none" stroke-width="1.1" stroke-linejoin="miter">
<path d="M110.0 1367.2L138.1 1367.2 139.5 1336.6 140.3 1336.6 140.6 1008.0 143.2 1008.0 143.4 1367.2 146.0 1367.2 146.0 846.4 148.0 846.4 148.0 1367.2 151.5 1367.2 151.5 849.0 153.0 849.0 153.0 1367.2 155.9 1367.2 155.9 849.0 157.2 849.0 157.2 1367.2 160.1 1367.2 160.1 851.4 162.1 851.4 162.1 1367.2 165.6 1367.2 165.6 850.3 167.1 850.3 167.1 1367.2 170.8 1367.2 170.8 855.3 172.1 855.3 172.1 1367.2 175.4 1367.2 175.4 855.3 176.5 855.3 176.5 1367.2 180.4 1367.2 180.4 857.8 181.5 857.8 181.5 1367.2 184.8 1367.2 184.8 859.0 186.6 859.0 186.6 1367.2 189.8 1367.2 189.8 861.6 191.8 861.6 191.8 1367.2 194.8 1367.2 194.8 861.7 196.8 861.7 196.8 1367.2 199.9 1367.2 199.9 864.0 200.7 864.0 200.7 1367.2 203.8 1367.2 203.8 863.1 205.9 863.1 205.9 1367.2 209.0 1367.2 209.0 866.7 210.9 866.7 210.9 1367.2 214.0 1367.2 214.0 868.0 215.9 868.0 215.9 1367.2 218.8 1367.2 218.8 868.0 219.9 868.0 219.9 1367.2 222.9 1367.2 222.9 871.9 224.9 871.9 224.9 1367.2 228.1 1367.2 228.1 866.7 229.9 866.7 229.9 1367.2 233.2 1367.2 233.2 869.4 235.1 869.4 235.1 1367.2 238.2 1367.2 238.2 874.5 239.2 874.5 239.2 1367.2 247.0 1367.2 247.0 874.8 249.2 874.8 249.2 1367.2 257.8 1367.2 257.8 875.6 259.6 875.6 259.6 1367.2 262.4 1367.2 262.4 875.6 263.4 875.6 263.4 1367.2 271.8 1367.2 271.8 870.9 273.6 870.9 273.6 1367.2 277.1 1367.2 277.1 878.4 278.8 878.4 278.8 1367.2 287.1 1367.2 287.1 878.4 288.2 878.4 288.2 1367.2 295.8 1367.2 295.8 880.9 298.4 880.9 298.4 1367.2 305.9 1367.2 305.9 878.4 307.4 878.4 307.4 1367.2 320.2 1367.2 320.2 879.4 322.5 879.4 322.5 1367.2 329.2 1367.2 329.2 882.0 331.4 882.0 331.4 1367.2 339.4 1367.2 339.4 882.0 342.0 882.0 342.0 1367.2 353.4 1367.2 353.4 879.4 356.2 879.4 356.2 1367.2 363.8 1367.2 363.8 878.4 366.2 878.4 366.2 1367.2 372.6 1367.2 372.6 882.0 375.2 882.0 375.2 1367.2 382.8 1367.2 382.8 883.3 385.6 883.3 385.6 1367.2 396.8 1367.2 396.8 884.7 399.6 884.7 399.6 1367.2 407.1 1367.2 407.1 884.7 408.9 884.7 408.9 1367.2 416.1 1367.2 416.1 884.7 418.6 884.7 418.6 1367.2 426.4 1367.2 426.4 884.7 429.2 884.7 429.2 1367.2 474.8 1367.2 474.8 884.7 476.6 884.7 476.6 1367.2 538.0 1367.2 538.0 884.7 539.5 884.7 539.5 1367.2 571.2 1367.2 571.2 879.4 574.2 879.4 574.2 1367.2 609.8 1367.2 609.8 885.0 612.8 885.0 612.8 1367.2 1016.9 1367.2" stroke="#0000ff"/>
<path d="M110.0 1367.2L445.6 1367.2 445.6 1178.5 448.2 1178.5 448.2 1367.2 517.7 1367.2 517.7 1188.6 520.2 1188.6 520.2 1367.2 532.5 1367.2 532.5 1180.9 535.5 1180.9 535.5 1367.2 541.8 1367.2 541.8 1184.8 544.3 1184.8 544.3 1367.2 560.5 1367.2 560.5 1184.8 563.5 1184.8 563.5 1367.2 566.0 1367.2 566.0 1188.6 568.8 1188.6 568.8 1367.2 585.2 1367.2 585.2 1188.6 588.2 1188.6 588.2 1367.2 600.5 1367.2 600.5 1184.8 602.2 1184.8 602.2 1367.2 614.5 1367.2 614.5 1187.4 617.5 1187.4 617.5 1367.2 1016.9 1367.2" stroke="#ff0000"/>
<path d="M110.0 1367.2L513.7 1367.2 513.7 1025.5 515.0 1025.5 515.0 1367.2 1016.9 1367.2" stroke="#bf00bf"/>
<path d="M110.0 1367.2L243.1 1367.2 243.1 928.2 244.4 928.2 244.4 1367.2 252.5 1367.2 252.5 936.0 254.6 936.0 254.6 1367.2 266.6 1367.2 266.6 943.6 268.6 943.6 268.6 1367.2 281.8 1367.2 281.8 951.2 283.2 951.2 283.2 1367.2 290.9 1367.2 290.9 970.2 293.2 970.2 293.2 1367.2 300.9 1367.2 300.9 969.2 302.9 969.2 302.9 1367.2 310.1 1367.2 310.1 969.2 311.9 969.2 311.9 1367.2 315.1 1367.2 315.1 966.8 317.4 966.8 317.4 1367.2 325.1 1367.2 325.1 972.9 326.4 972.9 326.4 1367.2 334.5 1367.2 334.5 969.2 336.6 969.2 336.6 1367.2 344.4 1367.2 344.4 969.2 345.9 969.2 345.9 1367.2 349.4 1367.2 349.4 970.2 350.9 970.2 350.9 1367.2 358.6 1367.2 358.6 965.5 360.9 965.5 360.9 1367.2 368.6 1367.2 368.6 970.2 370.2 970.2 370.2 1367.2 377.8 1367.2 377.8 970.2 380.2 970.2 380.2 1367.2 387.9 1367.2 387.9 971.7 389.6 971.7 389.6 1367.2 391.8 1367.2 391.8 975.4 394.1 975.4 394.1 1367.2 402.1 1367.2 402.1 972.9 404.2 972.9 404.2 1367.2 411.9 1367.2 411.9 978.0 413.6 978.0 413.6 1367.2 421.6 1367.2 421.6 974.3 423.8 974.3 423.8 1367.2 435.4 1367.2 435.4 974.6 437.8 974.6 437.8 1367.2 486.6 1367.2 486.6 974.6 489.1 974.6 489.1 1367.2 527.8 1367.2 527.8 975.8 530.0 975.8 530.0 1367.2 557.0 1367.2 557.0 982.3 558.9 982.3 558.9 1367.2 581.5 1367.2 581.5 982.3 583.0 982.3 583.0 1367.2 604.9 1367.2 604.9 982.3 607.1 982.3 607.1 1367.2 1016.9 1367.2" stroke="#404040"/>
<path d="M110.0 1367.2L431.4 1367.2 431.4 1127.0 432.9 1127.0 432.9 1367.2 522.4 1367.2 522.4 1127.4 525.0 1127.4 525.0 1367.2 551.7 1367.2 551.7 1125.8 554.2 1125.8 554.2 1367.2 576.2 1367.2 576.2 1123.4 577.6 1123.4 577.6 1367.2 595.5 1367.2 595.5 1124.4 598.2 1124.4 598.2 1367.2 1016.9 1367.2" stroke="#00bfbf"/>
<path d="M110.0 1367.2L440.8 1367.2 440.8 1006.7 442.9 1006.7 442.9 1367.2 547.0 1367.2 547.0 1004.4 549.0 1004.4 549.0 1367.2 590.8 1367.2 590.8 1005.5 593.2 1005.5 593.2 1367.2 1016.9 1367.2" stroke="#bfbf00"/>
</g>
<text x="102.0" y="1381.8" font-size="33.5" text-anchor="end" letter-spacing="-0.6">0</text>
<text x="102.0" y="1285.6" font-size="33.5" text-anchor="end" letter-spacing="-0.6">10</text>
<text x="102.0" y="1189.5" font-size="33.5" text-anchor="end" letter-spacing="-0.6">20</text>
<text x="102.0" y="1093.3" font-size="33.5" text-anchor="end" letter-spacing="-0.6">30</text>
<text x="102.0" y="997.1" font-size="33.5" text-anchor="end" letter-spacing="-0.6">40</text>
<text x="102.0" y="901.0" font-size="33.5" text-anchor="end" letter-spacing="-0.6">50</text>
<text x="102.0" y="804.8" font-size="33.5" text-anchor="end" letter-spacing="-0.6">60</text>
<text x="116.8" y="1406.0" font-size="33.5" text-anchor="middle" letter-spacing="-0.6">0</text>
<text x="237.4" y="1406.0" font-size="33.5" text-anchor="middle" letter-spacing="-0.6">10</text>
<text x="358.0" y="1406.0" font-size="33.5" text-anchor="middle" letter-spacing="-0.6">20</text>
<text x="478.6" y="1406.0" font-size="33.5" text-anchor="middle" letter-spacing="-0.6">30</text>
<text x="599.2" y="1406.0" font-size="33.5" text-anchor="middle" letter-spacing="-0.6">40</text>
<text x="719.8" y="1406.0" font-size="33.5" text-anchor="middle" letter-spacing="-0.6">50</text>
<text x="840.4" y="1406.0" font-size="33.5" text-anchor="middle" letter-spacing="-0.6">60</text>
<text x="961.0" y="1406.0" font-size="33.5" text-anchor="middle" letter-spacing="-0.6">70</text>
<text x="587.3" y="1439.1" font-size="33.3" text-anchor="middle" >Time [s]</text>
<text x="0" y="0" font-size="33.4" text-anchor="middle" transform="translate(41.7 1078.5) rotate(-90)">Equalization current [A]</text>
<text x="511.3" y="1500" font-size="31" text-anchor="middle">(<tspan font-weight="bold">b</tspan>)</text>
<path d="M110.0 1367.2H1016.0" stroke="#0000ff" stroke-width="1.6"/>
<rect x="636.3" y="456.7" width="362.9" height="115.0" fill="#fff" stroke="#000" stroke-width="1.4"/>
<path d="M643.7 488.5h40.3" stroke="#0000ff" stroke-width="1.5"/>
<text x="699.0" y="496.1" font-size="33">C<tspan font-size="23.5" dy="10.2">1</tspan></text>
<path d="M730.7 488.5h40.3" stroke="#ff0000" stroke-width="1.5"/>
<text x="786.0" y="496.1" font-size="33">C<tspan font-size="23.5" dy="10.2">2</tspan></text>
<path d="M817.7 488.5h40.3" stroke="#bf00bf" stroke-width="1.5"/>
<text x="873.0" y="496.1" font-size="33">C<tspan font-size="23.5" dy="10.2">3</tspan></text>
<path d="M904.7 488.5h40.3" stroke="#404040" stroke-width="1.5"/>
<text x="960.0" y="496.1" font-size="33">C<tspan font-size="23.5" dy="10.2">4</tspan></text>
<path d="M643.7 545.9h40.3" stroke="#008000" stroke-width="1.5"/>
<text x="699.0" y="553.5" font-size="33">C<tspan font-size="23.5" dy="10.2">5</tspan></text>
<path d="M730.7 545.9h40.3" stroke="#00bfbf" stroke-width="1.5"/>
<text x="786.0" y="553.5" font-size="33">C<tspan font-size="23.5" dy="10.2">6</tspan></text>
<path d="M817.7 545.9h40.3" stroke="#bfbf00" stroke-width="1.5"/>
<text x="873.0" y="553.5" font-size="33">C<tspan font-size="23.5" dy="10.2">7</tspan></text>
<path d="M904.7 545.9h40.3" stroke="#0000ff" stroke-width="1.5"/>
<text x="960.0" y="553.5" font-size="33">C<tspan font-size="23.5" dy="10.2">8</tspan></text>
<rect x="636.7" y="804.1" width="366.2" height="116.5" fill="#fff" stroke="#000" stroke-width="1.4"/>
<path d="M644.1 836.0h40.3" stroke="#0000ff" stroke-width="1.5"/>
<text x="699.4" y="843.6" font-size="33">C<tspan font-size="23.5" dy="10.2">1</tspan></text>
<path d="M732.2 836.0h40.3" stroke="#ff0000" stroke-width="1.5"/>
<text x="787.5" y="843.6" font-size="33">C<tspan font-size="23.5" dy="10.2">2</tspan></text>
<path d="M820.3 836.0h40.3" stroke="#bf00bf" stroke-width="1.5"/>
<text x="875.6" y="843.6" font-size="33">C<tspan font-size="23.5" dy="10.2">3</tspan></text>
<path d="M908.4 836.0h40.3" stroke="#404040" stroke-width="1.5"/>
<text x="963.7" y="843.6" font-size="33">C<tspan font-size="23.5" dy="10.2">4</tspan></text>
<path d="M644.1 893.5h40.3" stroke="#008000" stroke-width="1.5"/>
<text x="699.4" y="901.1" font-size="33">C<tspan font-size="23.5" dy="10.2">5</tspan></text>
<path d="M732.2 893.5h40.3" stroke="#00bfbf" stroke-width="1.5"/>
<text x="787.5" y="901.1" font-size="33">C<tspan font-size="23.5" dy="10.2">6</tspan></text>
<path d="M820.3 893.5h40.3" stroke="#bfbf00" stroke-width="1.5"/>
<text x="875.6" y="901.1" font-size="33">C<tspan font-size="23.5" dy="10.2">7</tspan></text>
<path d="M908.4 893.5h40.3" stroke="#0000ff" stroke-width="1.5"/>
<text x="963.7" y="901.1" font-size="33">C<tspan font-size="23.5" dy="10.2">8</tspan></text>
<rect x="660.2" y="305" width="349.5" height="82.9" fill="#fff" stroke="#a0a0a0" stroke-width="1.5"/>
<text x="836.0" y="335.7" font-size="33" text-anchor="middle" letter-spacing="0.25">Voltage difference after</text>
<text x="833.0" y="375.1" font-size="33" text-anchor="middle" >equalization = 20 mV</text>
<rect x="147.6" y="490.7" width="293.9" height="79.3" fill="#fff" stroke="#a0a0a0" stroke-width="1.5"/>
<text x="154.5" y="519.8" font-size="33" text-anchor="start" >Initial voltage</text>
<text x="154.5" y="559.7" font-size="33" text-anchor="start" letter-spacing="0.12">difference = 185 mV</text>
<path d="M243.3 490.7L140.3 412.4" stroke="#000" stroke-width="1.6"/>
<path d="M130.7 405.1L143.0 408.7L137.5 416.0Z" fill="#000"/>
<path d="M263.8 490.7L135.7 330.3" stroke="#000" stroke-width="1.6"/>
<path d="M128.2 320.9L139.3 327.4L132.1 333.1Z" fill="#000"/>
<path d="M999.2 245.0L999.2 259.7" stroke="#000" stroke-width="1.6"/>
<path d="M999.2 268.2L994.8 259.7L1003.6 259.7Z" fill="#000"/>
<path d="M999.2 302.8L999.2 287.3" stroke="#000" stroke-width="1.6"/>
<path d="M999.2 278.8L1003.6 287.3L994.8 287.3Z" fill="#000"/>
</svg></body></html>
